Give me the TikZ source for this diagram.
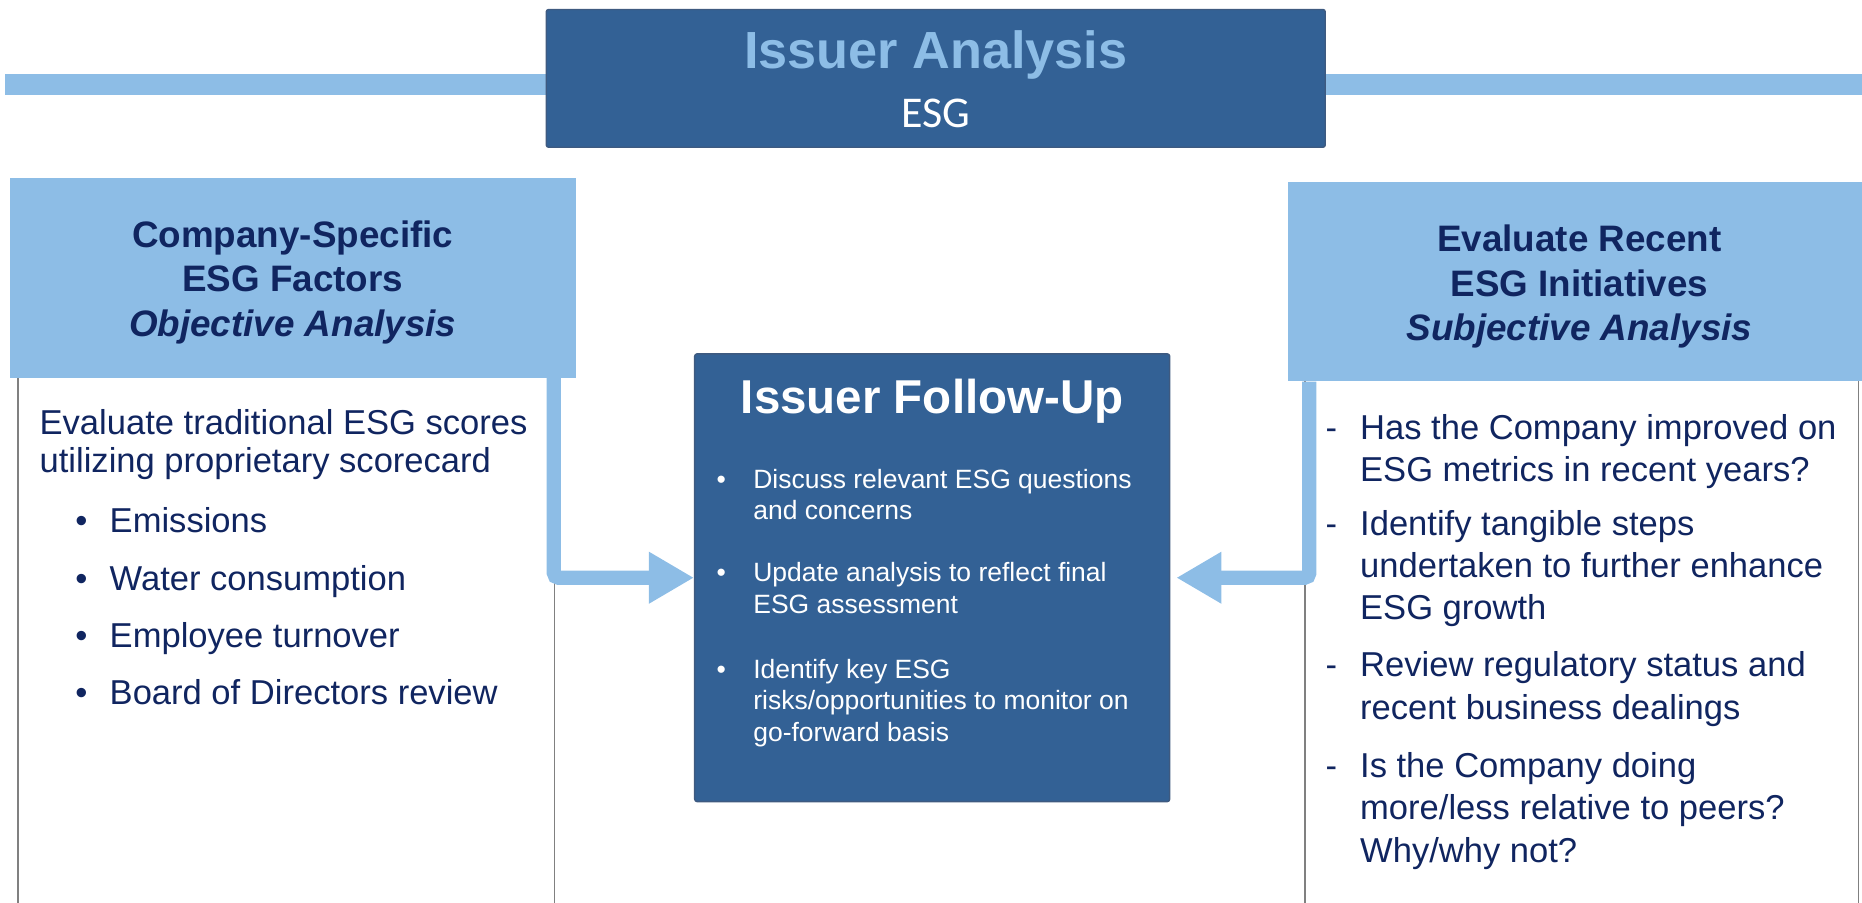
\documentclass[tikz,border=0pt]{standalone}
\usepackage{fontspec}
\setmainfont{Liberation Sans}
\newfontfamily\esgfont{Carlito}
\usetikzlibrary{arrows.meta}
\definecolor{celeste}{RGB}{141,189,230}
\definecolor{azul}{RGB}{51,97,149}
\definecolor{borde}{RGB}{62,90,128}
\definecolor{marino}{RGB}{16,37,96}
\definecolor{gris}{RGB}{128,128,128}
\tikzset{
  caja/.style={fill=azul, draw=borde, line width=0.6pt, rounded corners=1pt, inner sep=0pt},
  cabeza/.style={fill=celeste, inner sep=0pt},
  cabtexto/.style={inner sep=0pt, anchor=base, align=center, text=marino, font=\bfseries\fontsize{15.5}{18.75}\selectfont},
  texto/.style={inner sep=0pt, anchor=base west, align=left},
  cuerpo/.style={texto, text=marino, font=\fontsize{14.55}{16}\selectfont},
  cuerpoder/.style={texto, text=marino, font=\fontsize{14.55}{17.75}\selectfont},
  blanco/.style={texto, text=white, font=\fontsize{11.15}{13.25}\selectfont},
  conector/.style={draw=celeste, line width=6pt, rounded corners=2pt, -{Triangle[length=19pt,width=20.5pt]}},
  marco/.style={draw=gris, line width=0.75pt},
}
\begin{document}
\begin{tikzpicture}[x=0.5pt,y=-0.5pt]
    \useasboundingbox (0,0) rectangle (1568,760);
    % Barra superior
    \fill[celeste] (4,62) rectangle (1568,80);

    % Titulo
    \node[caja, minimum width=328pt, minimum height=58pt] (tit) at (788,66) {};
    \node[inner sep=0pt, anchor=base, text=celeste, font=\bfseries\fontsize{22}{26}\selectfont] (titA) at (788,58) {Issuer Analysis};
    \node[inner sep=0pt, anchor=base, text=white, font=\esgfont\fontsize{18.5}{22}\selectfont] (titB) at (788,107) {ESG};

    % Marcos de las columnas
    \draw[marco] (15,318) -- (15,760);
    \draw[marco] (467,318) -- (467,760);
    \draw[marco] (1099,321) -- (1099,760);
    \draw[marco] (1565,321) -- (1565,760);

    % Cabecera izquierda (base = ultima linea)
    \node[cabeza, minimum width=238.5pt, minimum height=84pt] (lhead) at (246.5,234) {};
    \node[cabtexto] (lheadtxt) at (246.5,283) {Company-Specific\\ESG Factors\\\textit{Objective Analysis}};

    % Cabecera derecha
    \node[cabeza, minimum width=242pt, minimum height=84pt] (rhead) at (1327,237) {};
    \node[cabtexto] (rheadtxt) at (1330,287) {Evaluate Recent\\ESG Initiatives\\\textit{Subjective Analysis}};

    % Caja central
    \node[caja, minimum width=200pt, minimum height=188.5pt] (fup) at (785,486.5) {};
    \node[inner sep=0pt, anchor=base, text=white, font=\bfseries\fontsize{20}{24}\selectfont] (fuptit) at (785,348) {Issuer Follow-Up};
    \node[blanco] (fupAb) at (603,411) {•};
    \node[blanco] (fupA) at (634,437.5) {Discuss relevant ESG questions\\and concerns};
    \node[blanco] (fupBb) at (603,490) {•};
    \node[blanco] (fupB) at (634,516.5) {Update analysis to reflect final\\ESG assessment};
    \node[blanco] (fupCb) at (603,571) {•};
    \node[blanco] (fupC) at (634,624) {Identify key ESG\\risks/opportunities to monitor on\\go-forward basis};

    % Texto izquierdo
    \node[cuerpo] (lintro) at (33,398) {Evaluate traditional ESG scores\\utilizing proprietary scorecard};
    \node[cuerpo] (lAb) at (63,448) {•};
    \node[cuerpo] (lA) at (92,448) {Emissions};
    \node[cuerpo] (lBb) at (63,497) {•};
    \node[cuerpo] (lB) at (92,497) {Water consumption};
    \node[cuerpo] (lCb) at (63,545) {•};
    \node[cuerpo] (lC) at (92,545) {Employee turnover};
    \node[cuerpo] (lDb) at (63,593) {•};
    \node[cuerpo] (lD) at (92,593) {Board of Directors review};

    % Texto derecho
    \node[cuerpoder] (rAd) at (1116,370) {-};
    \node[cuerpoder] (rA) at (1145,405.5) {Has the Company improved on\\ESG metrics in recent years?};
    \node[cuerpoder] (rBd) at (1116,451) {-};
    \node[cuerpoder] (rB) at (1145,522) {Identify tangible steps\\undertaken to further enhance\\ESG growth};
    \node[cuerpoder] (rCd) at (1116,570) {-};
    \node[cuerpoder] (rC) at (1145,605.5) {Review regulatory status and\\recent business dealings};
    \node[cuerpoder] (rDd) at (1116,655) {-};
    \node[cuerpoder] (rD) at (1145,726) {Is the Company doing\\more/less relative to peers?\\Why/why not?};

    % Flechas hacia la caja central
    \draw[conector] ([xshift=-9.5pt]lhead.south east) |- (fup.west);
    \draw[conector] ([xshift=9pt]rhead.south west) |- ([xshift=2.5pt]fup.east);
\end{tikzpicture}
\end{document}
